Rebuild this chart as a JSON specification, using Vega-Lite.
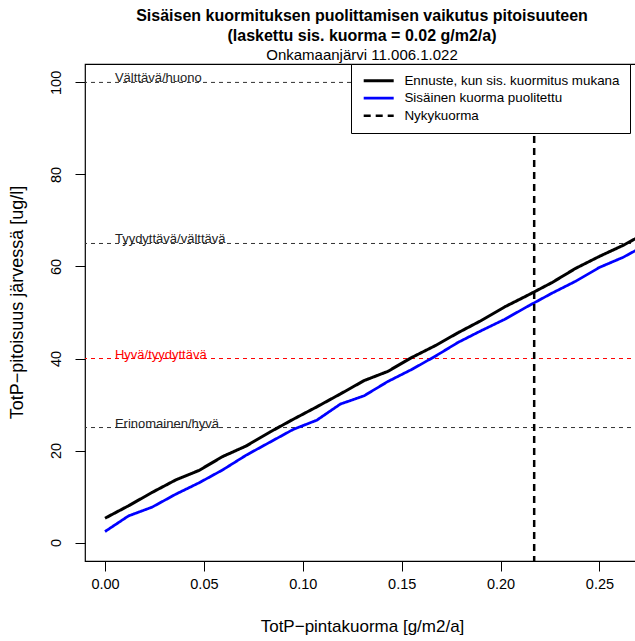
{
  "$schema": "https://vega.github.io/schema/vega-lite/v6.json",
  "autosize": "none",
  "padding": {"left": 85, "top": 64, "right": -4, "bottom": 80},
  "width": 554,
  "height": 497,
  "config": {
    "font": "Liberation Sans",
    "view": {"stroke": "#000", "strokeWidth": 1.2},
    "axis": {"grid": false, "domain": false, "tickColor": "#000", "labelColor": "#000", "titleColor": "#000", "labelFontSize": 14.5, "titleFontSize": 17, "titleFontWeight": "normal", "tickSize": 10}
  },
  "title": {
    "text": ["Sisäisen kuormituksen puolittamisen vaikutus pitoisuuteen", "(laskettu sis. kuorma = 0.02 g/m2/a)"],
    "subtitle": "Onkamaanjärvi 11.006.1.022",
    "fontSize": 16,
    "fontWeight": "bold",
    "lineHeight": 20,
    "subtitleFontSize": 15,
    "subtitleFontWeight": "normal",
    "subtitleColor": "#000",
    "subtitlePadding": 4,
    "color": "#000",
    "anchor": "middle",
    "offset": 0
  },
  "datasets": {
    "lines": [
      {"x": 0.0, "y": 5.3, "s": "Ennuste, kun sis. kuormitus mukana"},
      {"x": 0.0119, "y": 8.0, "s": "Ennuste, kun sis. kuormitus mukana"},
      {"x": 0.0238, "y": 10.9, "s": "Ennuste, kun sis. kuormitus mukana"},
      {"x": 0.0357, "y": 13.6, "s": "Ennuste, kun sis. kuormitus mukana"},
      {"x": 0.0476, "y": 15.7, "s": "Ennuste, kun sis. kuormitus mukana"},
      {"x": 0.0595, "y": 18.7, "s": "Ennuste, kun sis. kuormitus mukana"},
      {"x": 0.0714, "y": 21.0, "s": "Ennuste, kun sis. kuormitus mukana"},
      {"x": 0.0833, "y": 24.0, "s": "Ennuste, kun sis. kuormitus mukana"},
      {"x": 0.0952, "y": 26.8, "s": "Ennuste, kun sis. kuormitus mukana"},
      {"x": 0.1071, "y": 29.5, "s": "Ennuste, kun sis. kuormitus mukana"},
      {"x": 0.119, "y": 32.3, "s": "Ennuste, kun sis. kuormitus mukana"},
      {"x": 0.131, "y": 35.2, "s": "Ennuste, kun sis. kuormitus mukana"},
      {"x": 0.143, "y": 37.2, "s": "Ennuste, kun sis. kuormitus mukana"},
      {"x": 0.155, "y": 40.2, "s": "Ennuste, kun sis. kuormitus mukana"},
      {"x": 0.167, "y": 42.8, "s": "Ennuste, kun sis. kuormitus mukana"},
      {"x": 0.1785, "y": 45.6, "s": "Ennuste, kun sis. kuormitus mukana"},
      {"x": 0.19, "y": 48.2, "s": "Ennuste, kun sis. kuormitus mukana"},
      {"x": 0.202, "y": 51.2, "s": "Ennuste, kun sis. kuormitus mukana"},
      {"x": 0.214, "y": 53.8, "s": "Ennuste, kun sis. kuormitus mukana"},
      {"x": 0.226, "y": 56.5, "s": "Ennuste, kun sis. kuormitus mukana"},
      {"x": 0.238, "y": 59.6, "s": "Ennuste, kun sis. kuormitus mukana"},
      {"x": 0.25, "y": 62.2, "s": "Ennuste, kun sis. kuormitus mukana"},
      {"x": 0.262, "y": 64.6, "s": "Ennuste, kun sis. kuormitus mukana"},
      {"x": 0.274, "y": 67.4, "s": "Ennuste, kun sis. kuormitus mukana"},
      {"x": 0.0, "y": 2.4, "s": "Sisäinen kuorma puolitettu"},
      {"x": 0.0119, "y": 5.8, "s": "Sisäinen kuorma puolitettu"},
      {"x": 0.0238, "y": 7.7, "s": "Sisäinen kuorma puolitettu"},
      {"x": 0.0357, "y": 10.5, "s": "Sisäinen kuorma puolitettu"},
      {"x": 0.0476, "y": 13.0, "s": "Sisäinen kuorma puolitettu"},
      {"x": 0.0595, "y": 15.8, "s": "Sisäinen kuorma puolitettu"},
      {"x": 0.0714, "y": 19.0, "s": "Sisäinen kuorma puolitettu"},
      {"x": 0.0833, "y": 21.8, "s": "Sisäinen kuorma puolitettu"},
      {"x": 0.0952, "y": 24.6, "s": "Sisäinen kuorma puolitettu"},
      {"x": 0.1071, "y": 26.6, "s": "Sisäinen kuorma puolitettu"},
      {"x": 0.119, "y": 30.1, "s": "Sisäinen kuorma puolitettu"},
      {"x": 0.131, "y": 31.9, "s": "Sisäinen kuorma puolitettu"},
      {"x": 0.143, "y": 35.0, "s": "Sisäinen kuorma puolitettu"},
      {"x": 0.155, "y": 37.6, "s": "Sisäinen kuorma puolitettu"},
      {"x": 0.167, "y": 40.5, "s": "Sisäinen kuorma puolitettu"},
      {"x": 0.1785, "y": 43.5, "s": "Sisäinen kuorma puolitettu"},
      {"x": 0.19, "y": 46.0, "s": "Sisäinen kuorma puolitettu"},
      {"x": 0.202, "y": 48.5, "s": "Sisäinen kuorma puolitettu"},
      {"x": 0.214, "y": 51.4, "s": "Sisäinen kuorma puolitettu"},
      {"x": 0.226, "y": 54.2, "s": "Sisäinen kuorma puolitettu"},
      {"x": 0.238, "y": 56.8, "s": "Sisäinen kuorma puolitettu"},
      {"x": 0.25, "y": 59.8, "s": "Sisäinen kuorma puolitettu"},
      {"x": 0.262, "y": 62.0, "s": "Sisäinen kuorma puolitettu"},
      {"x": 0.274, "y": 64.8, "s": "Sisäinen kuorma puolitettu"}
    ],
    "current": [{"x": 0.217, "s": "Nykykuorma"}],
    "limits": [
      {"v": 100, "label": "Välttävä/huono"},
      {"v": 65, "label": "Tyydyttävä/välttävä"},
      {"v": 40, "label": "Hyvä/tyydyttävä"},
      {"v": 25, "label": "Erinomainen/hyvä"}
    ]
  },
  "layer": [
    {
      "data": {"name": "limits"},
      "mark": {"type": "rule", "strokeDash": [4, 4], "strokeWidth": 1},
      "encoding": {
        "y": {"field": "v", "type": "quantitative"},
        "color": {"condition": {"test": "datum.v === 40", "value": "#ff0000"}, "value": "#333333"}
      }
    },
    {
      "data": {"name": "limits"},
      "mark": {"type": "text", "align": "left", "baseline": "alphabetic", "fontSize": 13, "dy": 0},
      "encoding": {
        "x": {"datum": 0.005, "type": "quantitative"},
        "y": {"field": "v", "type": "quantitative"},
        "text": {"field": "label"},
        "color": {"condition": {"test": "datum.v === 40", "value": "#ff0000"}, "value": "#222222"}
      }
    },
    {
      "data": {"name": "lines"},
      "mark": {"type": "line", "clip": true},
      "encoding": {
        "x": {"field": "x", "type": "quantitative", "scale": {"domain": [-0.01012, 0.27], "nice": false, "zero": false},
              "axis": {"values": [0, 0.05, 0.1, 0.15, 0.2, 0.25], "format": ".2f", "title": "TotP−pintakuorma [g/m2/a]", "labelPadding": 6, "titlePadding": 28}},
        "y": {"field": "y", "type": "quantitative", "scale": {"domain": [-4, 104], "nice": false, "zero": false},
              "axis": {"values": [0, 20, 40, 60, 80, 100], "title": "TotP−pitoisuus järvessä [ug/l]", "titleFontSize": 18, "titleY": 238, "labelAngle": 270, "labelAlign": "center", "labelBaseline": "bottom", "labelPadding": 12, "titlePadding": 22}},
        "color": {"field": "s", "type": "nominal", "sort": null,
                  "scale": {"domain": ["Ennuste, kun sis. kuormitus mukana", "Sisäinen kuorma puolitettu", "Nykykuorma"], "range": ["#000000", "#0000ff", "#000000"]},
                  "legend": {"title": null, "orient": "none", "legendX": 266, "legendY": 0, "fillColor": "#ffffff", "strokeColor": "#000000", "padding": 10, "rowPadding": 2.5, "symbolType": "M-3,0L3,0", "symbolSize": 100, "symbolOffset": 11, "labelFontSize": 13.4, "labelColor": "#000", "labelOffset": 19, "labelExpr": "datum.label + '\u00a0\u00a0\u00a0\u00a0\u00a0\u00a0\u00a0\u00a0\u00a0\u00a0'", "labelLimit": 400}},
        "strokeDash": {"field": "s", "type": "nominal", "sort": null,
                  "scale": {"domain": ["Ennuste, kun sis. kuormitus mukana", "Sisäinen kuorma puolitettu", "Nykykuorma"], "range": [[1, 0], [1, 0], [7, 5]]}, "legend": null},
        "strokeWidth": {"field": "s", "type": "nominal", "sort": null,
                  "scale": {"domain": ["Ennuste, kun sis. kuormitus mukana", "Sisäinen kuorma puolitettu", "Nykykuorma"], "range": [3, 2.5, 4]}, "legend": null}
      }
    },
    {
      "data": {"name": "current"},
      "mark": {"type": "rule"},
      "encoding": {
        "x": {"field": "x", "type": "quantitative"},
        "color": {"field": "s", "type": "nominal"},
        "strokeDash": {"field": "s", "type": "nominal"},
        "strokeWidth": {"field": "s", "type": "nominal"}
      }
    }
  ]
}
